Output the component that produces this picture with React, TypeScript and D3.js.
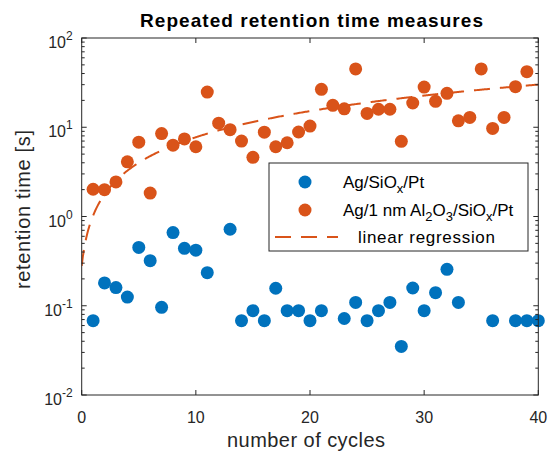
import React from "react";
import * as d3 from "d3";

// Ag/SiOx/Pt (blue)
const blueX = [1, 2, 3, 4, 5, 6, 7, 8, 9, 10, 11, 13, 14, 15, 16, 17, 18, 19, 20, 21, 23, 24, 25, 26, 27, 28, 29, 30, 31, 32, 33, 36, 38, 39, 40];
const blueY = [0.068, 0.18, 0.16, 0.125, 0.45, 0.32, 0.096, 0.66, 0.44, 0.42, 0.235, 0.72, 0.068, 0.088, 0.068, 0.157, 0.088, 0.088, 0.068, 0.088, 0.072, 0.109, 0.068, 0.088, 0.109, 0.035, 0.158, 0.088, 0.14, 0.256, 0.109, 0.068, 0.068, 0.068, 0.068];

// Ag/1 nm Al2O3/SiOx/Pt (orange)
const orangeX = d3.range(1, 40);
const orangeY = [2.02, 2.0, 2.44, 4.1, 6.8, 1.83, 8.5, 6.3, 7.4, 6.05, 24.8, 11.1, 9.4, 7.0, 4.6, 8.8, 6.05, 6.7, 8.85, 10.3, 26.6, 17.6, 16.1, 45, 14.3, 15.9, 15.9, 6.96, 18.7, 28.2, 19.5, 24, 11.8, 12.9, 45, 9.7, 12.9, 28.5, 41.9];

// linear regression coefficients
const regIntercept = 0.28;
const regSlope = 0.745;

const xTicks = [0, 10, 20, 30, 40];
const yExponents = [-2, -1, 0, 1, 2];

const BLUE = "#0072BD";
const ORANGE = "#D95319";
const AXIS = "#262626";
const FONT = "Arial, 'Liberation Sans', Helvetica, sans-serif";

export default function App() {
  const W = 549;
  const H = 453;
  const left = 81.7, right = 538.3, top = 38, bottom = 395;

  const x = d3.scaleLinear().domain([0, 40]).range([left, right]);
  const y = d3.scaleLog().domain([0.01, 100]).range([bottom, top]);

  // straight line in linear space, sampled so it bends on the log axis
  const regPts = d3.range(0, 40.001, 0.1)
    .map(c => [c, regIntercept + regSlope * c] as [number, number])
    .filter(d => d[1] >= 0.01);
  const regLine = d3.line<[number, number]>()
    .x(d => x(d[0]))
    .y(d => y(d[1]))(regPts);

  const minorTicks: number[] = [];
  for (let e = -2; e < 2; e++) {
    for (let m = 2; m <= 9; m++) minorTicks.push(m * Math.pow(10, e));
  }

  const r = 6.5;
  const dash = "16,10";

  return (
    <svg width={W} height={H} style={{ position: "absolute", left: 0, top: 0, background: "#fff" }} fontFamily={FONT}>
      <rect x={0} y={0} width={W} height={H} fill="#fff" />
      <defs>
        <clipPath id="plot">
          <rect x={left} y={top} width={right - left} height={bottom - top} />
        </clipPath>
      </defs>

      <g clipPath="url(#plot)">
        <path d={regLine ?? ""} fill="none" stroke={ORANGE} strokeWidth={2} strokeDasharray={dash} />
      </g>
      {blueX.map((c, i) => (
        <circle key={"b" + i} cx={x(c)} cy={y(blueY[i])} r={r} fill={BLUE} />
      ))}
      {orangeX.map((c, i) => (
        <circle key={"o" + i} cx={x(c)} cy={y(orangeY[i])} r={r} fill={ORANGE} />
      ))}

      {/* axes box + ticks */}
      <rect x={left} y={top} width={right - left} height={bottom - top} fill="none" stroke={AXIS} strokeWidth={1} />
      {xTicks.map(t => (
        <g key={"xt" + t}>
          <line x1={x(t)} x2={x(t)} y1={bottom} y2={bottom - 5} stroke={AXIS} />
          <line x1={x(t)} x2={x(t)} y1={top} y2={top + 5} stroke={AXIS} />
          <text x={x(t)} y={bottom + 28} textAnchor="middle" fontSize={16} fill={AXIS}>{t}</text>
        </g>
      ))}
      {yExponents.map(e => (
        <g key={"yt" + e}>
          <line x1={left} x2={left + 5} y1={y(Math.pow(10, e))} y2={y(Math.pow(10, e))} stroke={AXIS} />
          <line x1={right} x2={right - 5} y1={y(Math.pow(10, e))} y2={y(Math.pow(10, e))} stroke={AXIS} />
          <text x={left - 9} y={y(Math.pow(10, e)) + 10} textAnchor="end" fontSize={16} fill={AXIS}>
            10<tspan dy={-8} fontSize={12}>{e}</tspan>
          </text>
        </g>
      ))}
      {minorTicks.map((t, i) => (
        <g key={"mt" + i}>
          <line x1={left} x2={left + 3} y1={y(t)} y2={y(t)} stroke={AXIS} />
          <line x1={right} x2={right - 3} y1={y(t)} y2={y(t)} stroke={AXIS} />
        </g>
      ))}

      {/* labels */}
      <text x={140} y={27} fontSize={19} fontWeight="bold" fill="#000" textLength={343} lengthAdjust="spacing">
        Repeated retention time measures
      </text>
      <text x={227} y={447} fontSize={20} fill={AXIS} textLength={158} lengthAdjust="spacing">
        number of cycles
      </text>
      <text transform="translate(30,289) rotate(-90)" fontSize={20} fill={AXIS} textLength={159} lengthAdjust="spacing">
        retention time [s]
      </text>

      {/* legend */}
      <g>
        <rect x={269} y={163} width={259} height={88} fill="#fff" stroke={AXIS} strokeWidth={1} />
        <circle cx={305} cy={182} r={r} fill={BLUE} />
        <text x={343} y={188} fontSize={17} fill="#000">
          Ag/SiO<tspan dy={5} fontSize={13}>x</tspan><tspan dy={-5}>/Pt</tspan>
        </text>
        <circle cx={305} cy={210} r={r} fill={ORANGE} />
        <text x={343} y={216} fontSize={17} fill="#000">
          Ag/1 nm Al<tspan dy={5} fontSize={13}>2</tspan><tspan dy={-5}>O</tspan><tspan dy={5} fontSize={13}>3</tspan><tspan dy={-5}>/SiO</tspan><tspan dy={5} fontSize={13}>x</tspan><tspan dy={-5}>/Pt</tspan>
        </text>
        <line x1={275} x2={338} y1={237} y2={237} stroke={ORANGE} strokeWidth={2} strokeDasharray={dash} />
        <text x={358} y={243} fontSize={17} fill="#000" textLength={137} lengthAdjust="spacing">linear regression</text>
      </g>
    </svg>
  );
}
